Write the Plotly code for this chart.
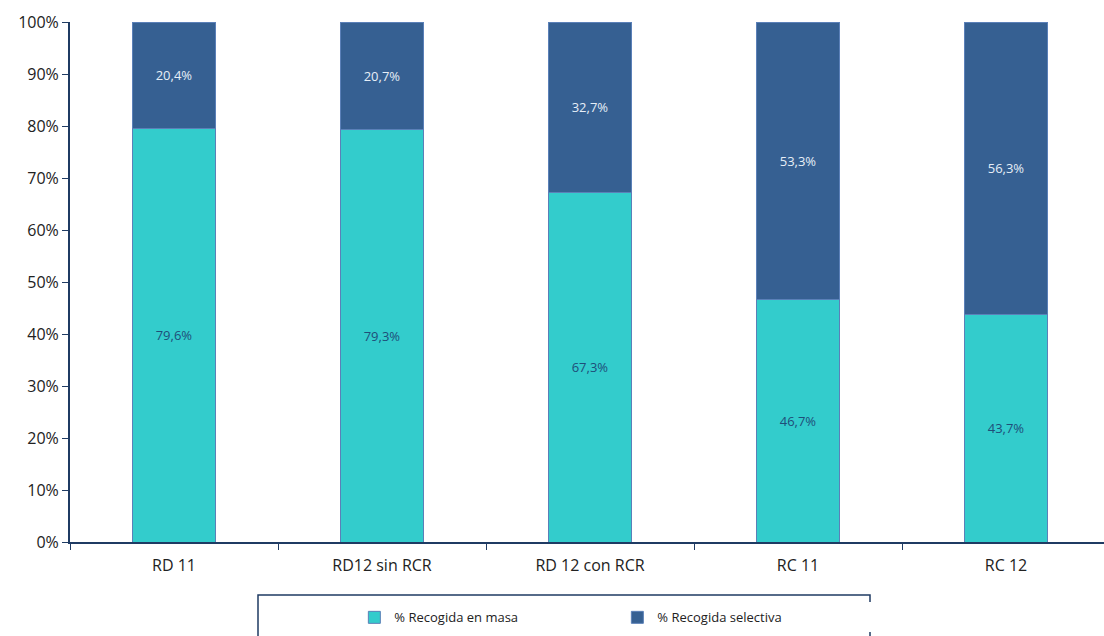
import plotly.graph_objects as go

categories = ["RD 11", "RD12 sin RCR", "RD 12 con RCR", "RC 11", "RC 12"]
masa = [79.6, 79.3, 67.3, 46.7, 43.7]
selectiva = [20.4, 20.7, 32.7, 53.3, 56.3]
y_ticks = [0, 10, 20, 30, 40, 50, 60, 70, 80, 90, 100]

AXIS = "#1F3B63"
FONT = "'Open Sans', Lato, sans-serif"


def fmt(v):
    return f"{v:.1f}".replace(".", ",") + "%"


fig = go.Figure()
fig.add_trace(go.Bar(
    name="% Recogida en masa", x=categories, y=masa,
    text=[fmt(v) for v in masa], textposition="inside",
    insidetextanchor="middle", textangle=0,
    textfont=dict(color="#1F4E79", size=13, family=FONT),
    marker=dict(color="#33CCCC", line=dict(color="#5B80B8", width=1)),
))
fig.add_trace(go.Bar(
    name="% Recogida selectiva", x=categories, y=selectiva,
    text=[fmt(v) for v in selectiva], textposition="inside",
    insidetextanchor="middle", textangle=0,
    textfont=dict(color="#E6EEF7", size=13, family=FONT),
    marker=dict(color="#366092", line=dict(color="#5B80B8", width=1)),
))

fig.update_layout(
    barmode="stack", bargap=0.6,
    width=1104, height=636,
    margin=dict(l=70, r=0, t=22, b=94),
    paper_bgcolor="white", plot_bgcolor="white",
    font=dict(family=FONT, color="#222222"),
    uniformtext=dict(minsize=13, mode="show"),
    legend=dict(
        orientation="h", x=0.275, xanchor="left", y=-0.145, yanchor="middle",
        entrywidth=218, entrywidthmode="pixels",
        font=dict(size=13, family=FONT, color="#222222"),
        itemwidth=30, traceorder="normal",
    ),
    showlegend=True,
)
fig.update_xaxes(
    range=[-0.5, 4.471], showline=True, linecolor=AXIS, linewidth=2,
    ticks="outside", tickson="boundaries", ticklen=6, tickcolor=AXIS, tickwidth=1,
    ticklabelstandoff=8,
    tickfont=dict(size=16, family=FONT, color="#222222"), showgrid=False,
)
fig.update_yaxes(
    range=[0, 100], tickvals=y_ticks, ticktext=[f"{v}%" for v in y_ticks],
    showline=True, linecolor=AXIS, linewidth=2,
    ticks="outside", ticklen=6, tickcolor=AXIS, tickwidth=1,
    tickfont=dict(size=16, family=FONT, color="#222222"), showgrid=False,
    zeroline=False,
)

# legend frame
fig.add_shape(type="rect", xref="paper", yref="paper",
              x0=(258 - 70) / 1034, x1=(870 - 70) / 1034,
              y0=-0.19, y1=-0.102,
              line=dict(color=AXIS, width=1.5), fillcolor="rgba(0,0,0,0)")

fig.write_html("out.html")
